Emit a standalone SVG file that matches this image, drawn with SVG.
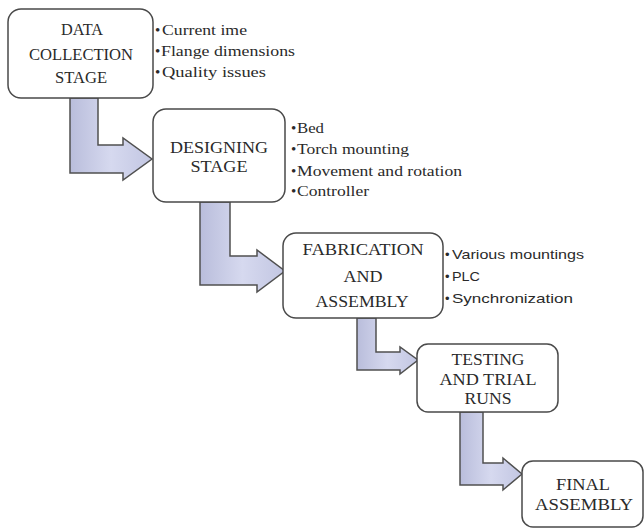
<svg xmlns="http://www.w3.org/2000/svg" width="644" height="529" viewBox="0 0 644 529">
<defs>
<linearGradient id="ag" x1="0" y1="0" x2="1" y2="0">
<stop offset="0" stop-color="#b9bddb"/>
<stop offset="0.5" stop-color="#d6d9ef"/>
<stop offset="1" stop-color="#c2c6e2"/>
</linearGradient>
<style>
.box{fill:#ffffff;stroke:#4a4a4a;stroke-width:1.5}
.arr{fill:url(#ag);stroke:#505050;stroke-width:1.5;stroke-linejoin:miter}
.t{font-size:16px;fill:#2a2a2a;text-anchor:middle}
.b{font-size:15px;fill:#2a2a2a}
.s{font-size:13px;fill:#2a2a2a}
</style>
</defs>
<rect width="644" height="529" fill="#ffffff"/>
<g id="connectors">
<path class="arr" d="M70,98 L98,98 L98,145 L123,145 L123,138 L152,159 L123,180 L123,173 L70,173 Z"/>
<path class="arr" d="M200,202 L230,202 L230,256 L257,256 L257,250 L285,271 L257,292 L257,285 L200,285 Z"/>
<path class="arr" d="M357,318 L376,318 L376,352 L400,352 L400,347 L418,360 L400,374 L400,370 L357,370 Z"/>
<path class="arr" d="M460,412 L483,412 L483,463 L503,463 L503,458 L522,474 L503,490 L503,485 L460,485 Z"/>
</g>
<g font-family="Liberation Serif, Times New Roman, serif">
<g id="node-data">
<rect class="box" x="8" y="9" width="145" height="89" rx="13"/>
<text class="t" x="82" y="35" textLength="42" lengthAdjust="spacingAndGlyphs">DATA</text>
<text class="t" x="81" y="60" textLength="104" lengthAdjust="spacingAndGlyphs">COLLECTION</text>
<text class="t" x="81" y="83" textLength="52" lengthAdjust="spacingAndGlyphs">STAGE</text>
</g>
<g id="notes-data">
<text class="b" x="155" y="35">•<tspan x="162" textLength="85" lengthAdjust="spacingAndGlyphs">Current ime</tspan></text>
<text class="b" x="155" y="56">•<tspan x="161" textLength="134" lengthAdjust="spacingAndGlyphs">Flange dimensions</tspan></text>
<text class="b" x="155" y="77">•<tspan x="162" textLength="104" lengthAdjust="spacingAndGlyphs">Quality issues</tspan></text>
</g>
<g id="node-designing">
<rect class="box" x="153" y="109" width="132" height="93" rx="13"/>
<text class="t" x="219" y="153" textLength="98" lengthAdjust="spacingAndGlyphs">DESIGNING</text>
<text class="t" x="219" y="172" textLength="57" lengthAdjust="spacingAndGlyphs">STAGE</text>
</g>
<g id="notes-designing">
<text class="b" x="291" y="133">•<tspan x="297" textLength="27" lengthAdjust="spacingAndGlyphs">Bed</tspan></text>
<text class="b" x="291" y="154">•<tspan x="297" textLength="112" lengthAdjust="spacingAndGlyphs">Torch mounting</tspan></text>
<text class="b" x="291" y="176">•<tspan x="297" textLength="165" lengthAdjust="spacingAndGlyphs">Movement and rotation</tspan></text>
<text class="b" x="291" y="196">•<tspan x="297" textLength="72" lengthAdjust="spacingAndGlyphs">Controller</tspan></text>
</g>
<g id="node-fabrication">
<rect class="box" x="283" y="233" width="160" height="85" rx="13"/>
<text class="t" x="363" y="255" textLength="121" lengthAdjust="spacingAndGlyphs">FABRICATION</text>
<text class="t" x="363" y="282" textLength="39" lengthAdjust="spacingAndGlyphs">AND</text>
<text class="t" x="362" y="307" textLength="93" lengthAdjust="spacingAndGlyphs">ASSEMBLY</text>
</g>
<g id="node-testing">
<rect class="box" x="417" y="344" width="141" height="68" rx="11"/>
<text class="t" x="488" y="365" font-size="15" textLength="73" lengthAdjust="spacingAndGlyphs">TESTING</text>
<text class="t" x="488" y="385" font-size="15" textLength="97" lengthAdjust="spacingAndGlyphs">AND TRIAL</text>
<text class="t" x="488" y="404" font-size="15" textLength="47" lengthAdjust="spacingAndGlyphs">RUNS</text>
</g>
<g id="node-final">
<rect class="box" x="522" y="461" width="121" height="66" rx="11"/>
<text class="t" x="583" y="490" font-size="15" textLength="54" lengthAdjust="spacingAndGlyphs">FINAL</text>
<text class="t" x="584" y="510" font-size="15" textLength="98" lengthAdjust="spacingAndGlyphs">ASSEMBLY</text>
</g>
</g>
<g id="notes-fabrication" font-family="Liberation Sans, Arial, sans-serif">
<text class="s" x="445" y="259">•<tspan x="452" textLength="132" lengthAdjust="spacingAndGlyphs">Various mountings</tspan></text>
<text class="s" x="445" y="281">•<tspan x="452" textLength="28" lengthAdjust="spacingAndGlyphs">PLC</tspan></text>
<text class="s" x="445" y="303">•<tspan x="452" textLength="121" lengthAdjust="spacingAndGlyphs">Synchronization</tspan></text>
</g>
</svg>
